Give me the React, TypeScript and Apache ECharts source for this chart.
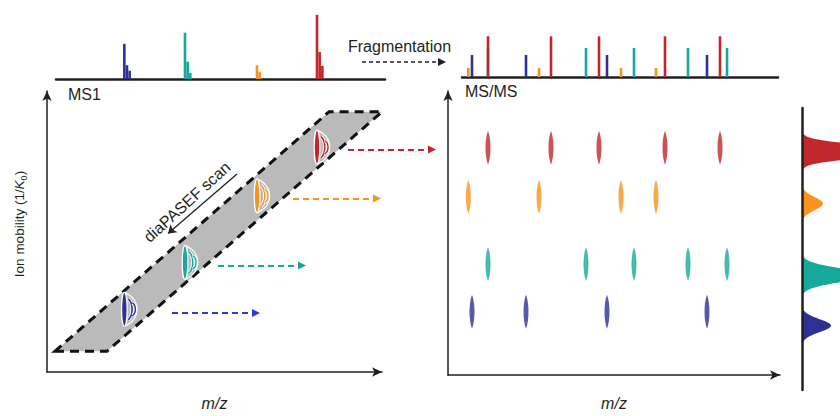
import { useEffect, useRef } from 'react';
import * as echarts from 'echarts';

const FONT = '"Liberation Sans", Arial, Helvetica, sans-serif';
const INK = '#231f20';

// precursors: red, orange, teal, blue
const precursorColors = ['#c1272d', '#f7931e', '#16a99b', '#2e3192'];
const transferColors = ['#c1272d', '#f7931e', '#16a99b', '#2a3ad6'];
const precursorMz = [1110, 930, 714, 532];
const precursorMobility = [1.4, 1.227, 0.99, 0.823];

// MS1 spectrum (isotope envelopes)
const ms1PeakMz = [532, 540, 548, 714, 722, 730, 930, 938, 1110, 1118, 1126];
const ms1PeakIntensity = [51, 20, 12, 67, 25, 9, 20, 10, 93, 39, 19];
const ms1PeakPrecursor = [3, 3, 3, 2, 2, 2, 1, 1, 0, 0, 0];

// MS/MS fragments for each precursor
const fragmentMzRed = [220, 409, 553, 751, 916];
const fragmentMzOrange = [161, 373, 619, 724];
const fragmentMzTeal = [220, 514, 658, 820, 937];
const fragmentMzBlue = [172, 334, 577, 877];
const fragmentIntensity = [59, 13, 42, 32];

// diaPASEF isolation window (corners)
const windowMz = [324, 480, 1305, 1146];
const windowMobility = [0.674, 0.674, 1.526, 1.526];

// transfer arrows to MS/MS
const transferStartMz = [1203, 1038, 813, 675];
const transferEndMz = [1455, 1290, 1065, 927];
const transferMobility = [1.392, 1.217, 0.979, 0.81];

// scan direction arrow
const scanArrowMz = [870, 663];
const scanArrowMobility = [1.305, 1.093];

// ion mobilogram peaks
const mobilogramApex = [120, 21, 65, 29];
const mobilogramSigma = [0.0195, 0.0215, 0.0224, 0.0215];

const hiddenAxis = {
  axisLine: { show: false },
  axisTick: { show: false },
  axisLabel: { show: false },
  splitLine: { show: false },
};

const arrowAxisLine = {
  show: true,
  onZero: false,
  symbol: ['none', 'arrow'],
  symbolSize: [7, 10],
  lineStyle: { color: INK, width: 1.5 },
};

const baselineAxis = {
  axisLine: { show: true, onZero: false, lineStyle: { color: INK, width: 2.5 } },
  axisTick: { show: false },
  axisLabel: { show: false },
  splitLine: { show: false },
};

const nameStyle = { fontFamily: FONT, fontSize: 16, color: INK, fontStyle: 'italic' };

function buildOption() {
  const fragmentLists = [fragmentMzRed, fragmentMzOrange, fragmentMzTeal, fragmentMzBlue];
  const drawOrder = [2, 3, 1, 0];
  const ms2Data: number[][] = [];
  drawOrder.forEach((p) => {
    fragmentLists[p].forEach((mz) => ms2Data.push([mz, fragmentIntensity[p], p]));
  });

  const peakRender = (_params: any, api: any) => {
    const base = api.coord([api.value(0), 0]);
    const top = api.coord([api.value(0), api.value(1)]);
    return {
      type: 'rect',
      shape: { x: base[0] - 1.3, y: top[1], width: 2.6, height: base[1] - top[1] },
      style: { fill: precursorColors[api.value(2)] },
    };
  };

  const spotSeries = fragmentLists.map((list, p) => ({
    type: 'scatter',
    xAxisIndex: 3,
    yAxisIndex: 3,
    symbol: 'path://M5 0C7.6 10 7.6 30 5 40C2.4 30 2.4 10 5 0Z',
    symbolSize: [5, 34],
    itemStyle: { color: precursorColors[p] },
    data: list.map((mz) => [mz, precursorMobility[p]]),
    z: 3,
  }));

  const txt = (text: string, x: number, y: number, extra: any = {}, rotation = 0) => ({
    type: 'text', x, y, rotation,
    style: {
      text, fontFamily: FONT, fontSize: 16, fill: INK,
      align: 'left', verticalAlign: 'middle', textAlign: 'left', textVerticalAlign: 'middle',
      ...extra,
    },
  });

  return {
    animation: false,
    grid: [
      { left: 56, top: 10, width: 329, height: 69 },
      { left: 47, top: 91, width: 335, height: 298 },
      { left: 462, top: 8, width: 316, height: 69 },
      { left: 448, top: 91, width: 332, height: 302 },
      { left: 802, top: 108, width: 36, height: 282 },
    ],
    xAxis: [
      { gridIndex: 0, type: 'value', min: 327, max: 1314, ...baselineAxis },
      {
        gridIndex: 1, type: 'value', min: 300, max: 1305,
        axisLine: arrowAxisLine, axisTick: { show: false }, axisLabel: { show: false }, splitLine: { show: false },
        name: 'm/z', nameLocation: 'middle', nameGap: 23, nameTextStyle: nameStyle,
      },
      { gridIndex: 2, type: 'value', min: 142, max: 1090, ...baselineAxis },
      {
        gridIndex: 3, type: 'value', min: 100, max: 1096,
        axisLine: arrowAxisLine, axisTick: { show: false }, axisLabel: { show: false }, splitLine: { show: false },
        name: 'm/z', nameLocation: 'middle', nameGap: 20, nameTextStyle: nameStyle,
      },
      { gridIndex: 4, type: 'value', min: 0, max: 36, ...hiddenAxis },
    ],
    yAxis: [
      { gridIndex: 0, type: 'value', min: 0, max: 100, ...hiddenAxis },
      {
        gridIndex: 1, type: 'value', min: 0.6, max: 1.6,
        axisLine: arrowAxisLine, axisTick: { show: false }, axisLabel: { show: false }, splitLine: { show: false },
      },
      { gridIndex: 2, type: 'value', min: 0, max: 100, ...hiddenAxis },
      {
        gridIndex: 3, type: 'value', min: 0.6, max: 1.6,
        axisLine: arrowAxisLine, axisTick: { show: false }, axisLabel: { show: false }, splitLine: { show: false },
      },
      {
        gridIndex: 4, type: 'value', min: 0.6099, max: 1.5437, z: 10,
        ...baselineAxis,
      },
    ],
    graphic: [
      txt('MS1', 68, 94),
      txt('MS/MS', 465, 91),
      txt('Fragmentation', 348, 46),
      { type: 'line', shape: { x1: 362, y1: 62, x2: 439, y2: 62 }, style: { stroke: INK, lineWidth: 1.5, lineDash: [4, 3] } },
      { type: 'polygon', shape: { points: [[438, 58], [446, 62], [438, 66]] }, style: { fill: INK } },
      txt('diaPASEF scan', 187, 202, { align: 'center', textAlign: 'center' }, 0.738),
      {
        type: 'text', x: 19, y: 224, rotation: Math.PI / 2,
        style: {
          text: 'Ion mobility (1/{k|K}{s|0})',
          fontFamily: FONT, fontSize: 13.5, fill: INK,
          align: 'center', verticalAlign: 'middle', textAlign: 'center', textVerticalAlign: 'middle',
          rich: {
            k: { fontFamily: FONT, fontSize: 13.5, fill: INK, fontStyle: 'italic' },
            s: { fontFamily: FONT, fontSize: 9, fill: INK, verticalAlign: 'bottom', lineHeight: 18 },
          },
        },
      },
    ],
    series: [
      {
        type: 'custom', xAxisIndex: 0, yAxisIndex: 0,
        data: ms1PeakMz.map((mz, i) => [mz, ms1PeakIntensity[i], ms1PeakPrecursor[i]]),
        renderItem: peakRender,
      },
      {
        type: 'custom', xAxisIndex: 2, yAxisIndex: 2,
        data: ms2Data,
        renderItem: peakRender,
      },
      {
        type: 'custom', xAxisIndex: 1, yAxisIndex: 1,
        data: [[windowMz[0], windowMobility[0]]],
        renderItem: (_params: any, api: any) => ({
          type: 'polygon',
          shape: { points: windowMz.map((mz, i) => api.coord([mz, windowMobility[i]])) },
          style: { fill: '#bababa', stroke: '#111', lineWidth: 3, lineDash: [9, 6] },
        }),
        z: 1,
      },
      {
        type: 'custom', xAxisIndex: 1, yAxisIndex: 1,
        data: precursorMz.map((mz, i) => [mz, precursorMobility[i], i]),
        renderItem: (_params: any, api: any) => {
          const [x, y] = api.coord([api.value(0), api.value(1)]);
          const c = precursorColors[api.value(2)];
          const h = 17;
          const arc = (dx0: number, dx1: number, hh: number, stroke: string, w: number) => ({
            type: 'bezierCurve',
            shape: { x1: x + dx0, y1: y - hh, cpx1: x + dx1, cpy1: y - hh * 0.6, cpx2: x + dx1, cpy2: y + hh * 0.6, x2: x + dx0, y2: y + hh },
            style: { stroke, lineWidth: w, fill: null },
          });
          return {
            type: 'group',
            children: [
              arc(0, 17, h, '#ffffff', 1.3),
              arc(4, 9, h * 0.62, '#ffffff', 3.4),
              arc(4, 9, h * 0.62, c, 1.6),
              arc(8, 12, h * 0.38, '#ffffff', 3.2),
              arc(8, 12, h * 0.38, c, 1.4),
              { type: 'ellipse', shape: { cx: x, cy: y, rx: 2.8, ry: h }, style: { fill: c, stroke: '#ffffff', lineWidth: 1.2 } },
            ],
          };
        },
        z: 3,
      },
      {
        type: 'lines', coordinateSystem: 'cartesian2d', xAxisIndex: 1, yAxisIndex: 1,
        clip: false,
        symbol: ['none', 'triangle'], symbolSize: 8,
        data: transferStartMz.map((s, i) => ({
          coords: [[s, transferMobility[i]], [transferEndMz[i], transferMobility[i]]],
          lineStyle: { color: transferColors[i] },
        })),
        lineStyle: { width: 2, type: [6, 4], opacity: 1 },
        z: 4,
      },
      {
        type: 'lines', coordinateSystem: 'cartesian2d', xAxisIndex: 1, yAxisIndex: 1,
        clip: false,
        symbol: ['none', 'arrow'], symbolSize: 8,
        data: [{ coords: [[scanArrowMz[0], scanArrowMobility[0]], [scanArrowMz[1], scanArrowMobility[1]]] }],
        lineStyle: { width: 1.3, color: INK, type: 'solid', opacity: 1 },
        z: 4,
      },
      ...spotSeries,
      {
        type: 'custom', xAxisIndex: 4, yAxisIndex: 4,
        data: mobilogramApex.map((a, i) => [a, precursorMobility[i], mobilogramSigma[i], i]),
        renderItem: (_params: any, api: any) => {
          const apex = api.value(0);
          const mob = api.value(1);
          const sig = api.value(2);
          const pts: number[][] = [];
          for (let k = -40; k <= 40; k++) {
            const t = (k / 10) * sig;
            pts.push(api.coord([apex * Math.exp(-(t * t) / (2 * sig * sig)), mob + t]));
          }
          return { type: 'polygon', shape: { points: pts }, style: { fill: precursorColors[api.value(3)] } };
        },
        z: 1,
      },
    ],
  };
}

export default function App() {
  const ref = useRef<HTMLDivElement>(null);
  useEffect(() => {
    if (!ref.current) return;
    const chart = echarts.init(ref.current, null, { renderer: 'svg' });
    chart.setOption(buildOption() as any);
    return () => chart.dispose();
  }, []);
  return (
    <div
      ref={ref}
      style={{ position: 'fixed', left: 0, top: 0, width: 840, height: 416, background: '#ffffff' }}
    />
  );
}
